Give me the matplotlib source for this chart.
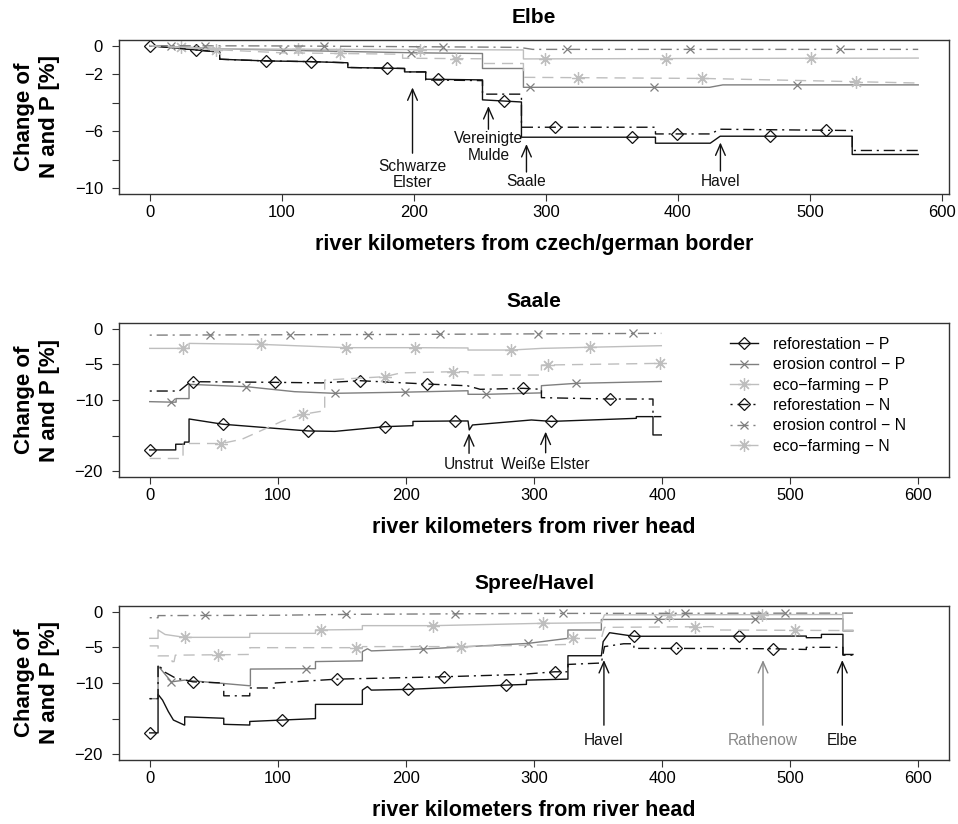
import numpy as np
import matplotlib
matplotlib.use("Agg")
import matplotlib.pyplot as plt
from matplotlib.lines import Line2D

plt.rcParams['font.family'] = ['Liberation Sans', 'DejaVu Sans']

###### data (change of N and P load in %, along river km)

# Elbe
elbe_ref_p_km = [0, 35, 53, 53, 88, 122, 150, 150, 193, 193, 209, 209, 252, 252, 281.5, 281.5, 383, 383, 424.5, 432, 532, 532, 582]
elbe_ref_p = [0, -0.3, -0.45, -0.95, -1.07, -1.12, -1.2, -1.53, -1.6, -1.84, -1.84, -2.35, -2.4, -3.8, -3.95, -6.42, -6.42, -6.84, -6.84, -6.35, -6.35, -7.63, -7.63]
elbe_ref_n_km = elbe_ref_p_km
elbe_ref_n = [0, -0.3, -0.45, -0.95, -1.07, -1.12, -1.2, -1.53, -1.6, -1.84, -1.84, -2.4, -2.45, -3.4, -3.4, -5.72, -5.72, -6.19, -6.19, -5.86, -5.95, -7.35, -7.35]
elbe_ero_p_km = [0, 50, 100, 200, 252, 252, 283, 283, 424, 434, 582]
elbe_ero_p = [0, -0.2, -0.32, -0.5, -0.55, -1.6, -1.6, -2.92, -2.92, -2.75, -2.75]
elbe_ero_n_km = [0, 100, 252, 280, 290, 582]
elbe_ero_n = [0, -0.02, -0.1, -0.12, -0.26, -0.26]
elbe_eco_p_km = [0, 50, 150, 283, 283, 400, 582]
elbe_eco_p = [0, -0.22, -0.26, -0.3, -0.93, -0.9, -0.87]
elbe_eco_n_km = [0, 50, 100, 191.5, 191.5, 252, 252, 283, 283, 420, 582]
elbe_eco_n = [0, -0.28, -0.5, -0.6, -0.88, -0.92, -1.25, -1.25, -2.22, -2.3, -2.62]
elbe_marks = [[0, 35, 88, 122, 180, 218, 268, 365, 470],
              [101, 198, 288, 382, 490],
              [24, 112, 205, 299, 391, 501],
              [307, 399, 512],
              [16, 42, 132, 222, 316, 409, 523],
              [50, 144, 232, 324, 418, 535]]

# Saale
saale_ref_p_km = [0, 20.3, 20.3, 27.1, 27.1, 30.7, 30.7, 57.2, 123.6, 144.6, 183.4, 205.5, 205.5, 238.1, 248.5, 249.5, 252, 298, 313.6, 379.9, 379.9, 392.9, 392.9, 399.4]
saale_ref_p = [-17, -17, -16.2, -16.2, -15.9, -15.9, -12.66, -13.4, -14.34, -14.4, -13.74, -13.6, -13.0, -12.94, -12.94, -14.2, -13.5, -12.8, -13.0, -12.57, -12.33, -12.33, -14.9, -14.9]
saale_ref_n_km = [0, 23, 30.7, 33.8, 97.6, 134, 163.9, 216.5, 248, 258, 291.4, 305.8, 305.8, 359.1, 392.9, 392.9, 399.4]
saale_ref_n = [-8.74, -8.74, -7.6, -7.43, -7.52, -7.6, -7.29, -7.76, -8.0, -8.5, -8.36, -8.5, -9.67, -9.86, -9.86, -12.33, -12.33]
saale_ero_p_km = [0, 16.9, 20.6, 20.6, 30.7, 30.7, 75.5, 113, 144.4, 199.1, 248.5, 248.5, 262.8, 305.8, 305.8, 333.1, 399.4]
saale_ero_p = [-10.23, -10.3, -10.3, -9.8, -9.8, -7.8, -8.13, -8.83, -9.06, -8.9, -8.7, -9.2, -9.2, -9.0, -7.99, -7.66, -7.4]
saale_ero_n_km = [0, 200, 399.4]
saale_ero_n = [-0.9, -0.8, -0.65]
saale_eco_p_km = [0, 30.7, 30.7, 87.2, 153.6, 206.9, 248.5, 248.5, 282.4, 305.8, 343.5, 399.4]
saale_eco_p = [-2.76, -2.76, -2.06, -2.2, -2.66, -2.66, -2.7, -2.99, -2.99, -2.76, -2.6, -2.38]
saale_eco_n_km = [0, 26, 26, 56, 72, 103, 119.7, 136.6, 136.6, 183.4, 196, 236.8, 248.5, 248.5, 305.8, 305.8, 398.1, 399.4]
saale_eco_n = [-18.2, -18.2, -16.1, -16.1, -15.5, -13.0, -12.0, -11.5, -7.2, -6.73, -6.2, -6.03, -6.03, -6.5, -6.5, -5.1, -4.86, -4.8]
saale_marks = [[0, 57.2, 123.6, 183.4, 238.1, 313.6],
               [16.9, 75.5, 144.4, 199.1, 262.8, 333.1],
               [26, 87.2, 153.6, 206.9, 282.4, 343.5],
               [33.8, 97.6, 163.9, 216.5, 291.4, 359.1],
               [46.8, 109.3, 170.4, 226.4, 303.1, 377.3],
               [56, 119.7, 183.4, 236.8, 310.9, 398.1]]

# Spree/Havel
spree_ref_p_km = [0, 6.5, 6.5, 10, 14.5, 18.5, 27, 27.3, 27.3, 57.8, 57.8, 78.1, 78.1, 103.3, 129.4, 129.4, 166, 166, 170, 173,
                  201.6, 277.9, 294.1, 294.1, 326.5, 326.5, 352.6, 354, 359, 378, 512.6, 512.6, 524.4, 524.4, 541.2, 541.2, 549]
spree_ref_p = [-17, -17, -11.6, -12.4, -14.0, -15.2, -15.9, -15.9, -14.75, -14.95, -15.8, -15.9, -15.4, -15.2, -15.0, -13.0, -13.0, -11.0, -10.5, -11.0,
               -10.9, -10.3, -10.2, -9.6, -9.46, -6.18, -6.18, -4.2, -2.95, -3.45, -3.42, -3.65, -3.65, -3.18, -3.18, -6.0, -6.0]
spree_ref_n_km = [0, 6.5, 6.5, 12, 20, 33.8, 57.8, 57.8, 78.1, 78.1, 98, 98, 146.5, 229.7, 290, 316.2, 326.5, 326.5, 352.6, 355,
                  370, 378, 378, 411.2, 486.6, 512.6, 512.6, 541.2, 541.2, 549]
spree_ref_n = [-12.2, -12.2, -7.4, -8.5, -9.3, -9.84, -10.0, -11.8, -11.8, -10.7, -10.7, -10.0, -9.46, -9.13, -8.8, -8.43, -8.43, -7.4, -7.2, -4.9,
               -4.5, -4.5, -5.15, -5.15, -5.2, -5.3, -5.0, -5.0, -6.1, -6.1]
spree_ero_p_km = [0, 6.5, 6.5, 16.9, 27.3, 78.6, 78.6, 122.3, 129.4, 129.4, 166, 166, 170, 173, 213.3, 295.3, 326.5, 326.5, 352.6, 352.6, 541.2, 541.2, 549]
spree_ero_p = [-12.2, -12.2, -7.6, -9.84, -9.6, -10.4, -8.05, -8.0, -8.0, -7.0, -6.9, -5.6, -5.2, -5.5, -5.24, -4.45, -3.74, -2.57, -2.57, -1.1, -1.0, -2.7, -2.7]
spree_ero_n_km = [0, 6.5, 6.5, 100, 160, 300, 549]
spree_ero_n = [-0.85, -0.85, -0.55, -0.5, -0.37, -0.25, -0.2]
spree_eco_p_km = [0, 6.5, 6.5, 12, 27.3, 78.1, 78.1, 129.4, 129.4, 166, 166, 221.2, 307, 352.6, 355, 541.2, 541.2, 549]
spree_eco_p = [-3.74, -3.74, -2.57, -3.2, -3.6, -3.6, -3.04, -3.04, -2.57, -2.5, -1.96, -1.96, -1.63, -1.55, -0.45, -0.4, -2.6, -2.6]
spree_eco_n_km = [0, 6.5, 6.5, 17, 17.5, 19, 20, 78.1, 78.1, 166, 166, 243.3, 326.5, 326.5, 352.6, 355, 439.5, 444, 549]
spree_eco_n = [-4.8, -4.8, -6.2, -6.2, -7.0, -7.0, -6.1, -6.0, -5.05, -5.05, -4.9, -4.9, -4.6, -3.74, -3.74, -2.2, -2.1, -2.57, -2.65]
spree_marks = [[0, 103.3, 201.6, 277.9, 378, 459.8],
               [16.9, 122.3, 213.3, 295.3, 396.6, 472.3],
               [27.3, 134, 221.2, 307, 405.2, 478],
               [33.8, 146.5, 229.7, 316.2, 411.2, 486.6],
               [42.9, 153.6, 238.1, 322.6, 417.6, 495.7],
               [53.3, 161.4, 243.3, 330.2, 425.4, 503.5]]

# tributaries: label, km, arrow tip, arrow tail, text y
elbe_notes = [("Schwarze\nElster", 199, -2.93, -7.54, -9.04),
              ("Vereinigte\nMulde", 256.5, -4.24, -5.86, -7.1),
              ("Saale", 285.3, -6.9, -8.86, -9.5),
              ("Havel", 432.2, -6.79, -8.79, -9.5)]
saale_notes = [("Unstrut", 249.3, -14.67, -17.48, -19.1),
               ("Weiße Elster", 309.1, -14.44, -17.4, -19.1)]
spree_notes = [("Havel", 354.6, -6.79, -15.92, -18.13),
               ("Rathenow", 478.8, -6.79, -15.92, -18.13),
               ("Elbe", 540.7, -6.79, -15.92, -18.13)]

labels = ['reforestation \u2212 P', 'erosion control \u2212 P', 'eco\u2212farming \u2212 P',
          'reforestation \u2212 N', 'erosion control \u2212 N', 'eco\u2212farming \u2212 N']

###### styles
black = '#111111'
grey50 = '#7f7f7f'
grey = '#bebebe'
dotdash = (0, (1.5, 3.5, 8, 3.5))
dashed = (0, (8, 5))
styles = [dict(color=black, ls='-', marker='D', ms=6),
          dict(color=grey50, ls='-', marker='x', ms=6),
          dict(color=grey, ls='-', marker=(8, 2, 0), ms=9),
          dict(color=black, ls=dotdash, marker='D', ms=6),
          dict(color=grey50, ls=dotdash, marker='x', ms=6),
          dict(color=grey, ls=dashed, marker=(8, 2, 0), ms=9)]


def panel(ax, series, marks, notes, title, xlabel, xlim, yticks, ylim):
    for (km, val), mk, st in zip(series, marks, styles):
        ax.plot(km, val, color=st['color'], ls=st['ls'], lw=1.0)
        ax.plot(mk, np.interp(mk, km, val), ls='none', marker=st['marker'], ms=st['ms'],
                mfc='none', mec=st['color'], mew=0.9)
    for lab, x, tip, tail, ty in notes:
        c = '#888888' if lab == 'Rathenow' else black
        ax.annotate('', xy=(x, tip), xytext=(x, tail),
                    arrowprops=dict(arrowstyle='->,head_length=0.8,head_width=0.35',
                                    lw=1.0, color=c, shrinkA=0, shrinkB=0, mutation_scale=10))
        ax.text(x, ty, lab, ha='center', va='center', fontsize=11.2, color=c, linespacing=1.1)
    ax.set_xlim(xlim)
    ax.set_ylim(ylim)
    ax.set_xticks([0, 100, 200, 300, 400, 500, 600])
    ax.set_yticks(yticks[0])
    ax.set_yticklabels(yticks[1])
    ax.tick_params(labelsize=12, length=5, width=0.8, color='#333333')
    ax.tick_params(axis='x', pad=3)
    ax.tick_params(axis='y', pad=6.5)
    for s in ax.spines.values():
        s.set_linewidth(1.0)
        s.set_color('#333333')
    ax.text(0.5, 1 + 22 / 154, title, transform=ax.transAxes, ha='center', va='center',
            fontsize=15, fontweight='bold')
    ax.set_xlabel(xlabel, fontsize=15.5, fontweight='bold', va='center')
    ax.xaxis.set_label_coords(0.5, -0.33)
    ax.set_ylabel('Change of\nN and P [%]', fontsize=16, fontweight='bold', linespacing=1.25, va='center')
    ax.yaxis.set_label_coords(-0.099, 0.5)


fig = plt.figure(figsize=(9.58, 8.24), dpi=100)
ax1 = fig.add_axes([0.1242, 0.7646, 0.8664, 0.1869])
ax2 = fig.add_axes([0.1242, 0.4211, 0.8664, 0.1869])
ax3 = fig.add_axes([0.1242, 0.0777, 0.8664, 0.1869])

m = '\u2212'
panel(ax1, [(elbe_ref_p_km, elbe_ref_p), (elbe_ero_p_km, elbe_ero_p), (elbe_eco_p_km, elbe_eco_p),
            (elbe_ref_n_km, elbe_ref_n), (elbe_ero_n_km, elbe_ero_n), (elbe_eco_n_km, elbe_eco_n)],
      elbe_marks, elbe_notes, 'Elbe', 'river kilometers from czech/german border',
      (-23.3, 605.3), ([0, -2, -4, -6, -8, -10], ['0', m + '2', '', m + '6', '', m + '10']), (-10.4, 0.4))
panel(ax2, [(saale_ref_p_km, saale_ref_p), (saale_ero_p_km, saale_ero_p), (saale_eco_p_km, saale_eco_p),
            (saale_ref_n_km, saale_ref_n), (saale_ero_n_km, saale_ero_n), (saale_eco_n_km, saale_eco_n)],
      saale_marks, saale_notes, 'Saale', 'river kilometers from river head',
      (-24, 624), ([0, -5, -10, -15, -20], ['0', m + '5', m + '10', '', m + '20']), (-20.8, 0.8))
panel(ax3, [(spree_ref_p_km, spree_ref_p), (spree_ero_p_km, spree_ero_p), (spree_eco_p_km, spree_eco_p),
            (spree_ref_n_km, spree_ref_n), (spree_ero_n_km, spree_ero_n), (spree_eco_n_km, spree_eco_n)],
      spree_marks, spree_notes, 'Spree/Havel', 'river kilometers from river head',
      (-24, 624), ([0, -5, -10, -15, -20], ['0', m + '5', m + '10', '', m + '20']), (-20.8, 0.8))

handles = [Line2D([], [], color=st['color'], ls=st['ls'], lw=1.0, marker=st['marker'], ms=st['ms'],
                  mfc='none', mec=st['color'], mew=0.9) for st in styles]
ax2.legend(handles, labels, loc='upper left', bbox_to_anchor=(0.736, 0.91), frameon=False,
           fontsize=11.3, handlelength=1.78, handletextpad=0.96, labelspacing=0.34,
           borderpad=0, borderaxespad=0)

fig.savefig('out.png', dpi=100)
